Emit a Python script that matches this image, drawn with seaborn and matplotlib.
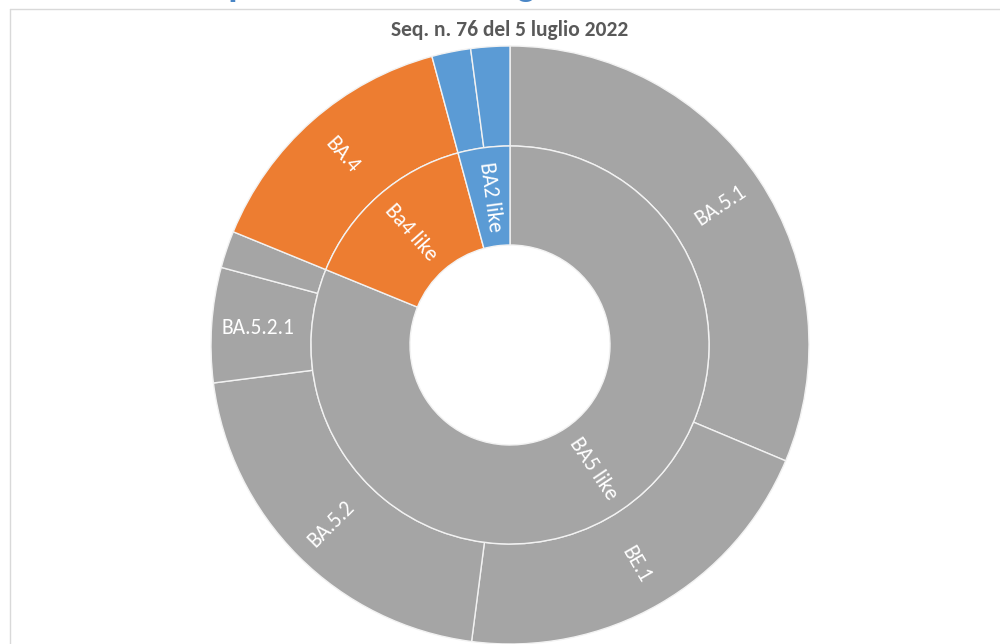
import matplotlib
matplotlib.use("Agg")
import matplotlib.pyplot as plt
import seaborn as sns
import numpy as np
from matplotlib.lines import Line2D

# ---- data ----
title = "Seq. n. 76 del 5 luglio 2022"
heading = "Composizione dei lineage"
inner_labels = ["BA5 like", "Ba4 like", "BA2 like"]
inner_values = [81.1, 14.6, 4.2]
inner_colors = ["#A5A5A5", "#ED7D31", "#5B9BD5"]
outer_labels = ["BA.5.1", "BE.1", "BA.5.2", "BA.5.2.1", "", "BA.4", "", ""]
outer_values = [31.3, 20.7, 20.9, 6.2, 2.0, 14.6, 2.1, 2.1]
outer_parent = [0, 0, 0, 0, 0, 1, 2, 2]

sns.set_theme(style="white")
plt.rcParams['font.family'] = ['Carlito', 'Open Sans', 'DejaVu Sans']

W, H = 1000, 644
fig = plt.figure(figsize=(W / 100, H / 100), dpi=100)
fig.patch.set_facecolor("white")
ax = fig.add_axes([0, 0, 1, 1])

cx, cy = 510, H - 345
R_out, R_mid, R_in = 299, 199, 100
wkw = dict(edgecolor="#F2F2F2", linewidth=1.0)

ow, _ = ax.pie(outer_values, radius=R_out, center=(cx, cy), startangle=90,
               counterclock=False,
               colors=[inner_colors[p] for p in outer_parent],
               wedgeprops=dict(width=R_out - R_mid, **wkw), frame=True)
iw, _ = ax.pie(inner_values, radius=R_mid, center=(cx, cy), startangle=90,
               counterclock=False, colors=inner_colors,
               wedgeprops=dict(width=R_mid - R_in, **wkw), frame=True)

ax.set_xlim(0, W)
ax.set_ylim(0, H)
ax.set_aspect("equal")
ax.axis("off")


def place(wedges, labels, r):
    for w, lab in zip(wedges, labels):
        if not lab:
            continue
        th = (w.theta1 + w.theta2) / 2.0
        x = cx + r * np.cos(np.radians(th))
        y = cy + r * np.sin(np.radians(th))
        rot = ((th + 180) % 360) - 180
        if rot > 90:
            rot -= 180
        elif rot < -90:
            rot += 180
        if abs(rot) < 6:
            rot = 0
        ax.text(x, y, lab, color="white", fontsize=15.5, ha="center", va="center",
                rotation=rot, rotation_mode="anchor")


place(ow, outer_labels, (R_out + R_mid) / 2 + 4)
place(iw, inner_labels, (R_mid + R_in) / 2)

fig.text(0.51, 1 - 30 / H, title, ha="center", va="center", fontsize=15.5,
         fontweight="bold", color="#595959")
fig.text(158 / W, 1 + 4 / H, heading, ha="left", va="baseline", fontsize=27,
         fontweight="bold", color="#4A86C6")

# chart border
fig.add_artist(Line2D([9.5 / W, 9.5 / W], [0, 1 - 8.5 / H], transform=fig.transFigure,
                      color="#D9D9D9", lw=1))
fig.add_artist(Line2D([9.5 / W, 1], [1 - 8.5 / H, 1 - 8.5 / H], transform=fig.transFigure,
                      color="#D9D9D9", lw=1))

fig.savefig("out.png", dpi=100)
